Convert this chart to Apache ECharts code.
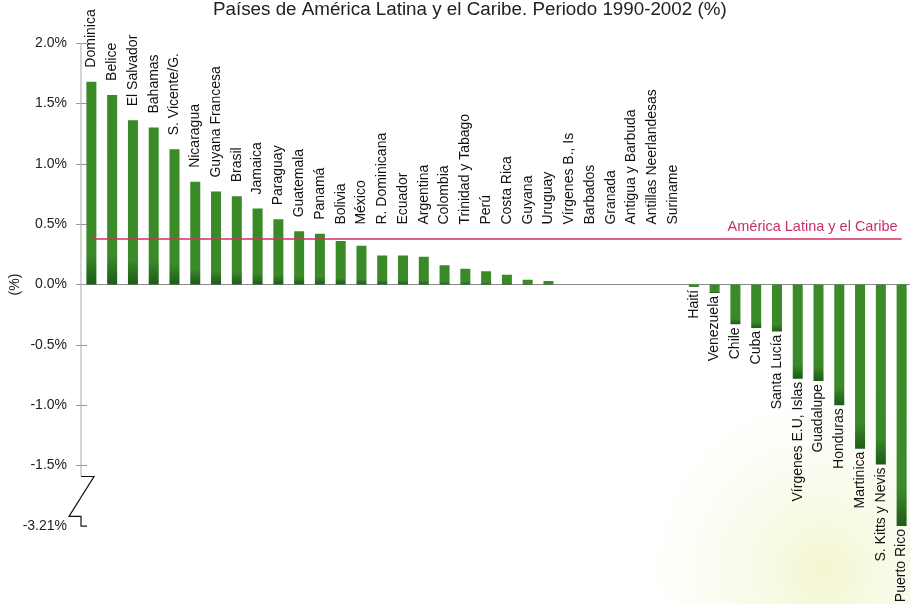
<!DOCTYPE html>
<html><head><meta charset="utf-8">
<script src="https://cdn.jsdelivr.net/npm/echarts@6/dist/echarts.min.js"></script>
<style>html,body{margin:0;padding:0;background:#fff}#c{width:910px;height:604px}</style>
</head><body><div id="c"></div>
<script>
const titleText = 'Países de América Latina y el Caribe. Periodo 1990-2002 (%)';
const categories = ['Dominica','Belice','El Salvador','Bahamas','S. Vicente/G.','Nicaragua','Guyana Francesa','Brasil','Jamaica','Paraguay','Guatemala','Panamá','Bolivia','México','R. Dominicana','Ecuador','Argentina','Colombia','Trinidad y Tabago','Perú','Costa Rica','Guyana','Uruguay','Vírgenes B., Is','Barbados','Granada','Antigua y Barbuda','Antillas Neerlandesas','Suriname','Haití','Venezuela','Chile','Cuba','Santa Lucía','Vírgenes E.U, Islas','Guadalupe','Honduras','Martinica','S. Kitts y Nevis','Puerto Rico'];
const values = [1.68,1.57,1.36,1.30,1.12,0.85,0.77,0.73,0.63,0.54,0.44,0.42,0.36,0.32,0.24,0.24,0.23,0.16,0.13,0.11,0.08,0.04,0.03,0.0,0,0,0,0,0,-0.02,-0.07,-0.33,-0.36,-0.39,-0.78,-0.80,-1.00,-1.36,-1.49,-3.21];
const regionAverage = 0.38;
const regionLabel = 'América Latina y el Caribe';
const yTickValues = [2, 1.5, 1, 0.5, 0, -0.5, -1, -1.5, -3.21];
const yMin = -3.21, yMax = 2.0;
const axisBreak = {start: -3.13, end: -1.59, gap: 0.33};

const FONT = "'Liberation Sans', Arial, sans-serif";
const chart = echarts.init(document.getElementById('c'));

function fmt(v){
  const r = Math.round(v*10)/10;
  return (Math.abs(r - v) < 1e-9 ? v.toFixed(1) : v.toFixed(2)) + '%';
}
const yCommon = {
  type: 'value', min: yMin, max: yMax,
  breaks: [{start: axisBreak.start, end: axisBreak.end, gap: axisBreak.gap}],
  breakArea: {show: false, expandOnClick: false},
  splitLine: {show: false},
  axisLine: {show: false}
};
const option = {
  animation: false,
  backgroundColor: '#fff',
  title: {
    text: titleText, left: 208, top: -5,
    textStyle: {fontFamily: FONT, fontSize: 18.8, fontWeight: 'normal', color: '#222'}
  },
  grid: {left: 81, right: -2, top: 43, bottom: 78, outerBoundsMode: 'none', containLabel: false},
  xAxis: {
    type: 'category', data: categories,
    axisLabel: {show: false},
    axisLine: {lineStyle: {color: '#888', width: 1}},
    axisTick: {interval: 0, length: 7, lineStyle: {color: '#777'}}
  },
  yAxis: [
    Object.assign({}, yCommon, {
      name: '(%)', nameLocation: 'middle', nameGap: 59, nameRotate: 90, nameMoveOverlap: false,
      nameTextStyle: {fontFamily: FONT, fontSize: 14, color: '#222'},
      axisLabel: {customValues: yTickValues, formatter: fmt, margin: 14,
        fontFamily: FONT, fontSize: 14, color: '#222'},
      axisTick: {show: true, customValues: yTickValues.slice(0, -1), length: 5, lineStyle: {color: '#999'}}
    }),
    Object.assign({}, yCommon, {
      position: 'left',
      axisLabel: {show: false},
      axisTick: {show: true, inside: true, customValues: yTickValues, length: 6, lineStyle: {color: '#999'}}
    })
  ],
  series: [
    {
      type: 'bar', data: values, barWidth: 10, silent: true,
      itemStyle: {
        color: new echarts.graphic.LinearGradient(0, 0, 0, 1, [
          {offset: 0, color: '#3a8a28'},
          {offset: 0.85, color: '#3b8a29'},
          {offset: 1, color: '#1d5a1a'}
        ])
      },
      markLine: {
        silent: true, symbol: 'none',
        lineStyle: {color: '#d03060', width: 1.5, type: 'solid'},
        label: {show: true, position: 'insideEndTop', formatter: regionLabel,
          color: '#c8306c', fontFamily: FONT, fontSize: 14.5, distance: 4},
        data: [[{coord: [0, regionAverage]}, {coord: [categories.length - 1, regionAverage]}]]
      }
    },
    {
      type: 'custom', silent: true, z: 5,
      data: categories.map((c, i) => [i, values[i]]),
      renderItem: function(params, api){
        const i = api.value(0), v = api.value(1);
        const up = v >= 0;
        const anchor = up ? Math.max(v, regionAverage) : v;
        const p = api.coord([i, anchor]);
        return {
          type: 'text', x: p[0], y: up ? p[1] - 14 : p[1] + 3, rotation: Math.PI / 2,
          style: {text: categories[i], fill: '#111', font: '14px ' + FONT,
            align: up ? 'left' : 'right', verticalAlign: 'middle'}
        };
      }
    }
  ]
};
chart.setOption(option);

// axis line with break "Z" derived from the axis scales
const c0 = chart.convertToPixel({xAxisIndex: 0}, 0);
const c1 = chart.convertToPixel({xAxisIndex: 0}, 1);
const L = c0 - (c1 - c0) / 2;
const yTop = chart.convertToPixel({yAxisIndex: 0}, yMax);
const yB1 = chart.convertToPixel({yAxisIndex: 0}, axisBreak.end);
const yB2 = chart.convertToPixel({yAxisIndex: 0}, axisBreak.start);
const yBot = chart.convertToPixel({yAxisIndex: 0}, yMin);
chart.setOption({
  graphic: [
    {type: 'rect', silent: true, z: -10, shape: {x: 520, y: 380, width: 390, height: 224},
      style: {fill: new echarts.graphic.RadialGradient(0.78, 0.85, 0.9, [
        {offset: 0, color: 'rgba(228,234,150,0.45)'},
        {offset: 0.6, color: 'rgba(240,244,200,0.2)'},
        {offset: 1, color: 'rgba(255,255,255,0)'}
      ])}},
    {type: 'line', silent: true, z: 10, shape: {x1: L, y1: yTop, x2: L, y2: yB1}, style: {stroke: '#aaa', lineWidth: 1}},
    {type: 'polyline', silent: true, z: 10,
      shape: {points: [[L, yB1], [L + 13, yB1], [L - 12, yB2], [L, yB2], [L, yBot], [L + 6, yBot]]},
      style: {stroke: '#111', lineWidth: 1.2, fill: null}}
  ]
});
</script></body></html>
